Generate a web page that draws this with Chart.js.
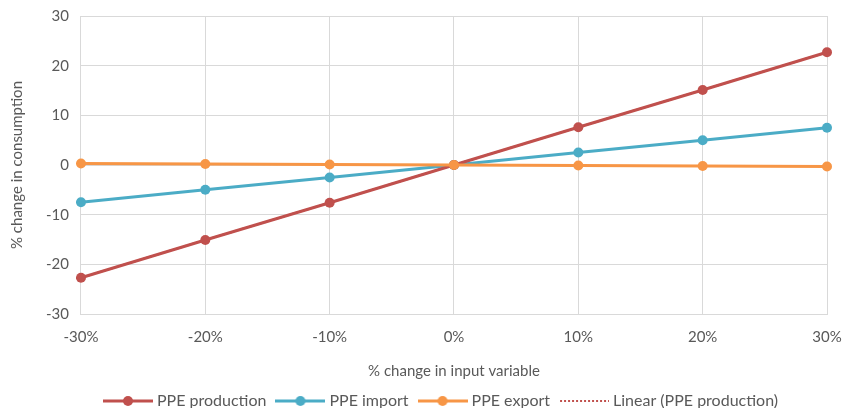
<!DOCTYPE html>
<html>
<head>
<meta charset="utf-8">
<script src="https://cdn.jsdelivr.net/npm/chart.js@4/dist/chart.umd.min.js"></script>
<style>
  html, body { margin: 0; padding: 0; background: #fff; }
  #wrap { width: 843px; height: 408px; }
</style>
</head>
<body>
<div id="wrap"><canvas id="chart" width="843" height="408"></canvas></div>
<script>
// data
const categories = ['-30%', '-20%', '-10%', '0%', '10%', '20%', '30%'];
const ppeProduction = [-22.7, -15.1, -7.6, 0, 7.6, 15.1, 22.7];
const ppeImport = [-7.5, -5.0, -2.5, 0, 2.5, 5.0, 7.5];
const ppeExport = [0.3, 0.2, 0.1, 0, -0.1, -0.2, -0.3];
const linearProduction = [-22.7, -15.1, -7.6, 0, 7.6, 15.1, 22.7];

const RED = '#c0504d';
const BLUE = '#4bacc6';
const ORANGE = '#f79646';
const TEXT = '#595959';
const GRID = '#d9d9d9';

Chart.defaults.font.family = "Lato, 'Open Sans', sans-serif";
Chart.defaults.color = TEXT;

// small legend swatch: line with a dot in the middle (or dotted line)
function swatch(color, dotted) {
    const c = document.createElement('canvas');
    c.width = 50; c.height = 12;
    const g = c.getContext('2d');
    g.strokeStyle = color;
    g.fillStyle = color;
    if (dotted) {
        for (let x = 1; x < 50; x += 4) g.fillRect(x, 5, 2, 2);
    } else {
        g.lineWidth = 3;
        g.beginPath(); g.moveTo(0, 6); g.lineTo(50, 6); g.stroke();
        g.beginPath(); g.arc(25, 6, 5, 0, Math.PI * 2); g.fill();
    }
    return c;
}

const lineStyle = (color) => ({
    borderColor: color,
    backgroundColor: color,
    borderWidth: 3,
    pointRadius: 5,
    pointHoverRadius: 5,
    pointBackgroundColor: color,
    pointBorderWidth: 0,
    tension: 0,
    fill: false
});

// nudge the legend to the right, like the original which centres it under the plot
const legendShift = {
    id: 'legendShift',
    afterLayout(chart) {
        const lg = chart.legend;
        if (lg) { lg.left += 19; lg.right += 19; }
    }
};

new Chart(document.getElementById('chart').getContext('2d'), {
    type: 'line',
    data: {
        labels: categories,
        datasets: [
            Object.assign({ label: 'PPE production', data: ppeProduction, order: 1, legendImg: swatch(RED) }, lineStyle(RED)),
            Object.assign({ label: 'PPE import', data: ppeImport, order: 2, legendImg: swatch(BLUE) }, lineStyle(BLUE)),
            Object.assign({ label: 'PPE export', data: ppeExport, order: 0, legendImg: swatch(ORANGE) }, lineStyle(ORANGE)),
            {
                label: 'Linear (PPE production)',
                data: linearProduction,
                order: 3,
                legendImg: swatch(RED, true),
                borderColor: RED,
                borderWidth: 2,
                borderDash: [2, 2],
                pointRadius: 0,
                fill: false
            }
        ]
    },
    plugins: [legendShift],
    options: {
        responsive: false,
        animation: false,
        layout: { padding: { left: 4, right: 0, top: 0, bottom: -11 } },
        plugins: {
            tooltip: { enabled: false },
            legend: {
                position: 'bottom',
                labels: {
                    usePointStyle: true,
                    pointStyleWidth: 42,
                    padding: 13,
                    color: TEXT,
                    font: { size: 16 },
                    generateLabels: (chart) => chart.data.datasets.map((ds, i) => ({
                        text: ds.label,
                        pointStyle: ds.legendImg,
                        fillStyle: ds.borderColor,
                        strokeStyle: ds.borderColor,
                        lineWidth: 0,
                        fontColor: TEXT,
                        hidden: false,
                        datasetIndex: i
                    }))
                }
            }
        },
        scales: {
            x: {
                offset: false,
                afterFit: (s) => { s.paddingRight = 16; },
                grid: { color: GRID, lineWidth: 1, drawTicks: false },
                border: { color: GRID },
                ticks: { padding: 14, font: { size: 15 }, color: TEXT, maxRotation: 0 },
                title: { display: true, text: '% change in input variable', font: { size: 15 }, color: TEXT, padding: { top: 2, bottom: 0 } }
            },
            y: {
                min: -30,
                max: 30,
                afterFit: (s) => { s.paddingTop = 16; },
                grid: { color: GRID, lineWidth: 1, drawTicks: false },
                border: { color: GRID },
                ticks: { stepSize: 10, padding: 12, font: { size: 15 }, color: TEXT },
                title: { display: true, text: '% change in consumption', font: { size: 15 }, color: TEXT, padding: { bottom: 8 } }
            }
        }
    }
});
</script>
</body>
</html>
